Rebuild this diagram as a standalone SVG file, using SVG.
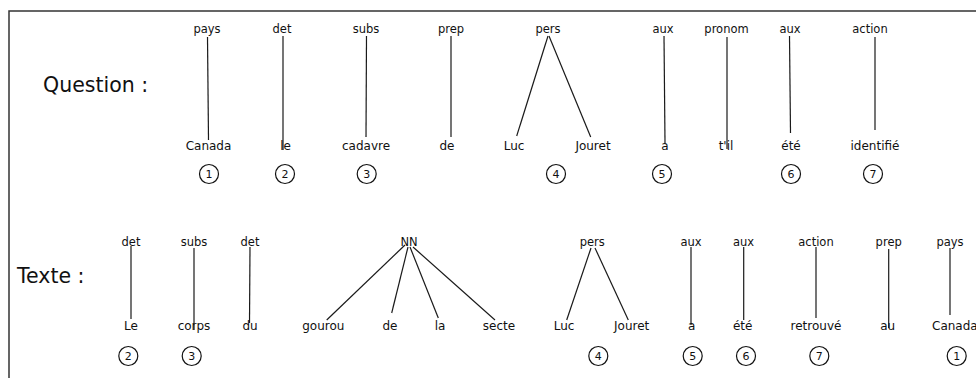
<svg xmlns="http://www.w3.org/2000/svg" width="976" height="378" viewBox="0 0 976 378">
<style>
text{font-family:"DejaVu Sans","Noto Sans",sans-serif;fill:#111}
.lab{font-size:11.5px;text-anchor:middle}
.w{font-size:12px;text-anchor:middle}
.h{font-size:20.5px}
.n{font-size:11px;text-anchor:middle}
.c{fill:none;stroke:#111;stroke-width:1.2}
#connectors line{stroke:#1a1a1a;stroke-width:1.2}
</style>
<rect width="976" height="378" fill="#fff"/>
<path d="M9,378V11H976" fill="none" stroke="#333" stroke-width="1.5"/>
<text class="h" x="43" y="92">Question :</text>
<text class="h" x="17" y="283">Texte :</text>
<g id="connectors">
<line x1="207.5" y1="37" x2="208.5" y2="140"/>
<line x1="283" y1="36" x2="283" y2="150"/>
<line x1="366.5" y1="36" x2="366" y2="137"/>
<line x1="451" y1="36" x2="451" y2="137"/>
<line x1="548" y1="36" x2="516.7" y2="136"/>
<line x1="549" y1="36" x2="590.7" y2="137"/>
<line x1="664" y1="36" x2="665" y2="143"/>
<line x1="727" y1="37" x2="727" y2="149"/>
<line x1="789.5" y1="36" x2="790.5" y2="133"/>
<line x1="875" y1="37" x2="875" y2="130"/>
<line x1="131" y1="246" x2="131" y2="319"/>
<line x1="194" y1="248" x2="194" y2="330"/>
<line x1="250" y1="247" x2="249.5" y2="323"/>
<line x1="405" y1="245" x2="326.7" y2="320"/>
<line x1="408" y1="247" x2="391.7" y2="313"/>
<line x1="410" y1="247" x2="438.3" y2="318"/>
<line x1="413" y1="247" x2="495" y2="320"/>
<line x1="591" y1="248" x2="566.7" y2="320"/>
<line x1="595" y1="248" x2="628.3" y2="320"/>
<line x1="691" y1="247" x2="691" y2="325"/>
<line x1="743.7" y1="247" x2="743.7" y2="320"/>
<line x1="816" y1="247" x2="816" y2="318"/>
<line x1="888.7" y1="249" x2="888.7" y2="328"/>
<line x1="950" y1="248" x2="950" y2="315"/>
</g>
<g id="q-pays"><text class="lab" x="207" y="33">pays</text><text class="w" x="208.5" y="150">Canada</text><circle class="c" cx="209" cy="174" r="9.5"/><text class="n" x="209" y="178">1</text></g>
<g id="q-det"><text class="lab" x="282" y="33">det</text><text class="w" x="285.5" y="150">le</text><circle class="c" cx="285" cy="174" r="9.5"/><text class="n" x="285" y="178">2</text></g>
<g id="q-subs"><text class="lab" x="366" y="33">subs</text><text class="w" x="366" y="150">cadavre</text><circle class="c" cx="366.7" cy="174" r="9.5"/><text class="n" x="366.7" y="178">3</text></g>
<g id="q-prep"><text class="lab" x="451" y="33">prep</text><text class="w" x="447" y="150">de</text></g>
<g id="q-pers"><text class="lab" x="548" y="33">pers</text><text class="w" x="514" y="150">Luc</text><text class="w" x="593" y="150">Jouret</text><circle class="c" cx="556" cy="174" r="9.5"/><text class="n" x="556" y="178">4</text></g>
<g id="q-aux1"><text class="lab" x="663" y="33">aux</text><text class="w" x="665" y="150">a</text><circle class="c" cx="662" cy="174" r="9.5"/><text class="n" x="662" y="178">5</text></g>
<g id="q-pronom"><text class="lab" x="726.5" y="33">pronom</text><text class="w" x="726" y="150">t'il</text></g>
<g id="q-aux2"><text class="lab" x="790" y="33">aux</text><text class="w" x="791" y="150">été</text><circle class="c" cx="791" cy="174" r="9.5"/><text class="n" x="791" y="178">6</text></g>
<g id="q-action"><text class="lab" x="870" y="33">action</text><text class="w" x="875" y="150">identifié</text><circle class="c" cx="873" cy="174" r="9.5"/><text class="n" x="873" y="178">7</text></g>
<g id="t-det1"><text class="lab" x="131" y="245.5">det</text><text class="w" x="131" y="329.5">Le</text><circle class="c" cx="128.3" cy="356" r="9.5"/><text class="n" x="128.3" y="360">2</text></g>
<g id="t-subs"><text class="lab" x="194" y="245.5">subs</text><text class="w" x="194" y="329.5">corps</text><circle class="c" cx="191.7" cy="356" r="9.5"/><text class="n" x="191.7" y="360">3</text></g>
<g id="t-det2"><text class="lab" x="250" y="245.5">det</text><text class="w" x="250" y="329.5">du</text></g>
<g id="t-nn"><text class="lab" x="409" y="245.5">NN</text><text class="w" x="323.3" y="329.5">gourou</text><text class="w" x="390" y="329.5">de</text><text class="w" x="440" y="329.5">la</text><text class="w" x="499" y="329.5">secte</text></g>
<g id="t-pers"><text class="lab" x="592.3" y="245.5">pers</text><text class="w" x="564" y="329.5">Luc</text><text class="w" x="631.7" y="329.5">Jouret</text><circle class="c" cx="598.3" cy="356" r="9.5"/><text class="n" x="598.3" y="360">4</text></g>
<g id="t-aux1"><text class="lab" x="691" y="245.5">aux</text><text class="w" x="691.7" y="329.5">a</text><circle class="c" cx="692.7" cy="356" r="9.5"/><text class="n" x="692.7" y="360">5</text></g>
<g id="t-aux2"><text class="lab" x="743.5" y="245.5">aux</text><text class="w" x="742.7" y="329.5">été</text><circle class="c" cx="746" cy="356" r="9.5"/><text class="n" x="746" y="360">6</text></g>
<g id="t-action"><text class="lab" x="816" y="245.5">action</text><text class="w" x="816" y="329.5">retrouvé</text><circle class="c" cx="819.3" cy="356" r="9.5"/><text class="n" x="819.3" y="360">7</text></g>
<g id="t-prep"><text class="lab" x="888.7" y="245.5">prep</text><text class="w" x="887.7" y="329.5">au</text></g>
<g id="t-pays"><text class="lab" x="950" y="245.5">pays</text><text class="w" x="932" y="329.5" style="text-anchor:start">Canada</text><circle class="c" cx="956.7" cy="356" r="9.5"/><text class="n" x="956.7" y="360">1</text></g>
</svg>
